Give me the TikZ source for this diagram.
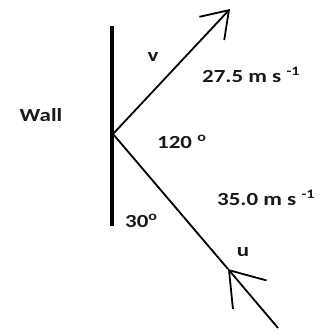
\documentclass[tikz,border=0pt]{standalone}
\usepackage{fontspec}
\setmainfont{Carlito}[FakeStretch=1.24]
\usetikzlibrary{arrows.meta}
\tikzset{
  wallline/.style={line width=4pt,color=black},
  velarr/.style={line width=1.8pt,color=black},
  lbl/.style={font=\fontsize{18.5}{20}\selectfont\bfseries,text=black!90,inner sep=0pt}
}

\begin{document}
\begin{tikzpicture}[x=1pt,y=-1pt,
  outtip/.style={-{Straight Barb[length=25pt,width=34pt]}},
  intip/.style={-{Straight Barb[length=32pt,width=44pt]}}
]
\useasboundingbox (0,0) rectangle (324,332);
\coordinate (walltop) at (112,26);
\coordinate (wallbot) at (112,226);
\coordinate (hit)     at (113,134);
\coordinate (vtip)    at (230,9);
\coordinate (umid)    at (228,269);
\coordinate (ustart)  at (278,328);

\draw[wallline] (walltop) -- (wallbot);
\draw[velarr,outtip] (hit) -- (vtip);
\draw[velarr,intip] (ustart) -- (umid);
\draw[velarr] (umid) -- (hit);

\node[lbl] (wall)   at (41,115) {Wall};
\node[lbl] (vname)  at (153,57) {v};
\node[lbl,anchor=base west] (vspeed) at (202,82) {27.5 m s \textsuperscript{-1}};
\node[lbl,anchor=base west] (big)    at (157,148) {120 \textsuperscript{o}};
\node[lbl,anchor=base west] (uspeed) at (217,205) {35.0 m s \textsuperscript{-1}};
\node[lbl,anchor=base west] (small)  at (125,227) {30\textsuperscript{o}};
\node[lbl] (uname)  at (243,252) {u};

\end{tikzpicture}
\end{document}
